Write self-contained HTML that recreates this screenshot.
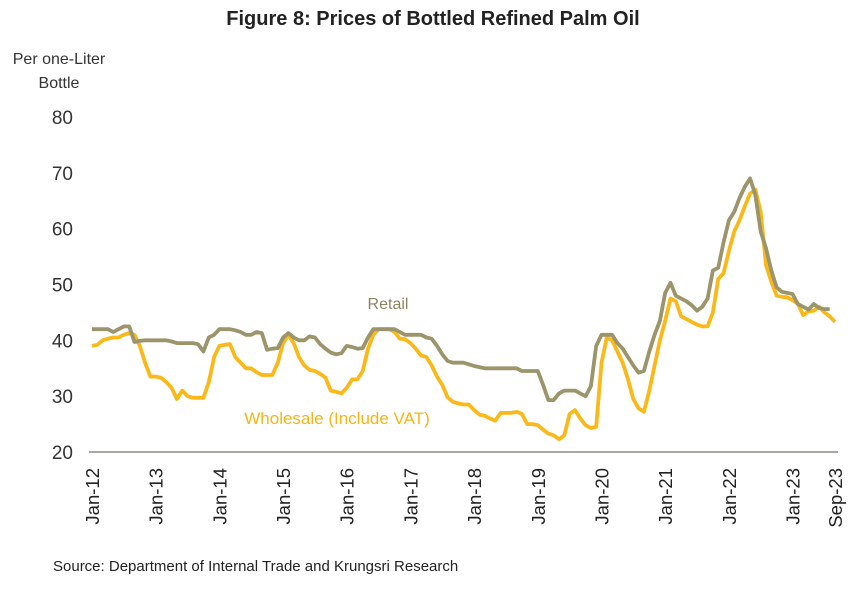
<!DOCTYPE html>
<html><head><meta charset="utf-8"><style>
body{margin:0;background:#fff;}
svg{display:block;font-family:"Liberation Sans",sans-serif;}
</style></head><body>
<svg id="chart" width="865" height="595">
<text x="433" y="25" text-anchor="middle" font-size="20" font-weight="bold" fill="#222">Figure 8: Prices of Bottled Refined Palm Oil</text>
<text x="59" y="64" text-anchor="middle" font-size="16" fill="#333">Per one-Liter</text>
<text x="59" y="88" text-anchor="middle" font-size="16" fill="#333">Bottle</text>
<g id="yticks"></g><g id="xticks"></g>
<line x1="89" y1="452" x2="838" y2="452" stroke="#7a706a" stroke-width="1.2"/>
<g id="series"></g>
<text x="388" y="309" text-anchor="middle" font-size="16" fill="#8d8560">Retail</text>
<text x="337" y="424" text-anchor="middle" font-size="17" fill="#f5b518">Wholesale  (Include VAT)</text>
<text x="53" y="571" font-size="15" fill="#222">Source: Department of Internal Trade and Krungsri Research</text>
</svg>
<script>
const yTicks=[20,30,40,50,60,70,80];
const xLabels=["Jan-12","Jan-13","Jan-14","Jan-15","Jan-16","Jan-17","Jan-18","Jan-19","Jan-20","Jan-21","Jan-22","Jan-23","Sep-23"];
const xLabelIdx=[0,12,24,36,48,60,72,84,96,108,120,132,140];
const retail=[42,42,42,42,41.5,42,42.5,42.5,39.7,39.9,40,40,
40,40,40,39.8,39.5,39.5,39.5,39.5,39.3,38,40.5,41,
42,42,42,41.8,41.5,41,41,41.5,41.3,38.3,38.5,38.6,
40.5,41.3,40.5,40,40,40.7,40.5,39.3,38.5,37.8,37.5,37.7,
39,38.8,38.5,38.6,40.5,42,42,42,42,42,41.5,41,
41,41,41,40.5,40.3,39,37.5,36.3,36,36,36,35.7,
35.4,35.2,35,35,35,35,35,35,35,34.5,34.5,34.5,
34.5,32,29.3,29.3,30.5,31,31,31,30.5,30,31.8,
39,41,41,41,39.5,38.5,37,35.5,34.2,34.5,38,41,
43.5,48.5,50.3,48,47.5,47,46.3,45.3,46,47.5,52.5,53,
57.5,61.5,63,65.5,67.5,69,66,59.5,56.5,52.5,49.5,48.7,
48.5,48.3,46.5,46,45.5,46.5,45.8,45.6,45.6];
const wholesale=[39,39.2,40,40.3,40.5,40.5,41,41.3,41,39,36,33.5,
33.5,33.3,32.5,31.5,29.5,31,30,29.7,29.7,29.7,32.5,37,
39,39.2,39.3,37,36,35,35,34.3,33.8,33.8,33.8,36,
39.5,41,39.5,37,35.5,34.7,34.5,34,33.3,31,30.8,30.5,
31.5,33,33,34.5,38.5,41,42,42,42,41.5,40.3,40.2,
39.5,38.5,37.3,37,35.5,33.5,32,29.8,29,28.7,28.5,28.5,
27.5,26.7,26.5,26,25.6,27,27,27,27.2,26.8,25,25,
24.8,24,23.3,23,22.3,23,26.8,27.5,26,24.8,24.3,24.5,
36,40.5,40,38,36,33,29.5,27.8,27.2,31,35.5,40,
43.5,47.5,47,44.3,43.8,43.3,42.8,42.5,42.5,45,51,52,
56,59.5,61.5,64,66.3,67,63,53.5,50.5,48,47.8,47.7,
47.2,46.5,44.5,45.2,45.3,46,45,44.3,43.3];
const NS="http://www.w3.org/2000/svg";
const X=i=>92+i*(835-92)/140;
const Y=v=>452-(v-20)*(452-117)/60;
const yg=document.getElementById('yticks');
yTicks.forEach(t=>{
  const el=document.createElementNS(NS,'text');
  el.setAttribute('x',73);el.setAttribute('y',Y(t)+7);
  el.setAttribute('text-anchor','end');el.setAttribute('font-size','19');el.setAttribute('fill','#333');
  el.textContent=t;
  
  
  yg.appendChild(el);
});
const xg=document.getElementById('xticks');
xLabels.forEach((l,k)=>{
  const x=X(xLabelIdx[k])+7;
  const el=document.createElementNS(NS,'text');
  el.setAttribute('transform','translate('+x+',468) rotate(-90)');
  el.setAttribute('text-anchor','end');el.setAttribute('font-size','18.5');el.setAttribute('fill','#222');
  el.textContent=l;
  
  
  xg.appendChild(el);
});
const sg=document.getElementById('series');
function draw(arr,color,name){
  const p=document.createElementNS(NS,'polyline');
  p.setAttribute('points',arr.map((v,i)=>X(i).toFixed(1)+','+Y(v).toFixed(1)).join(' '));
  p.setAttribute('fill','none');p.setAttribute('stroke',color);p.setAttribute('stroke-width','3.8');
  p.setAttribute('stroke-linejoin','round');
  
  
  sg.appendChild(p);
}
draw(wholesale,'#fbb919','wholesale-line');
draw(retail,'#9c946a','retail-line');
</script>
</body></html>
